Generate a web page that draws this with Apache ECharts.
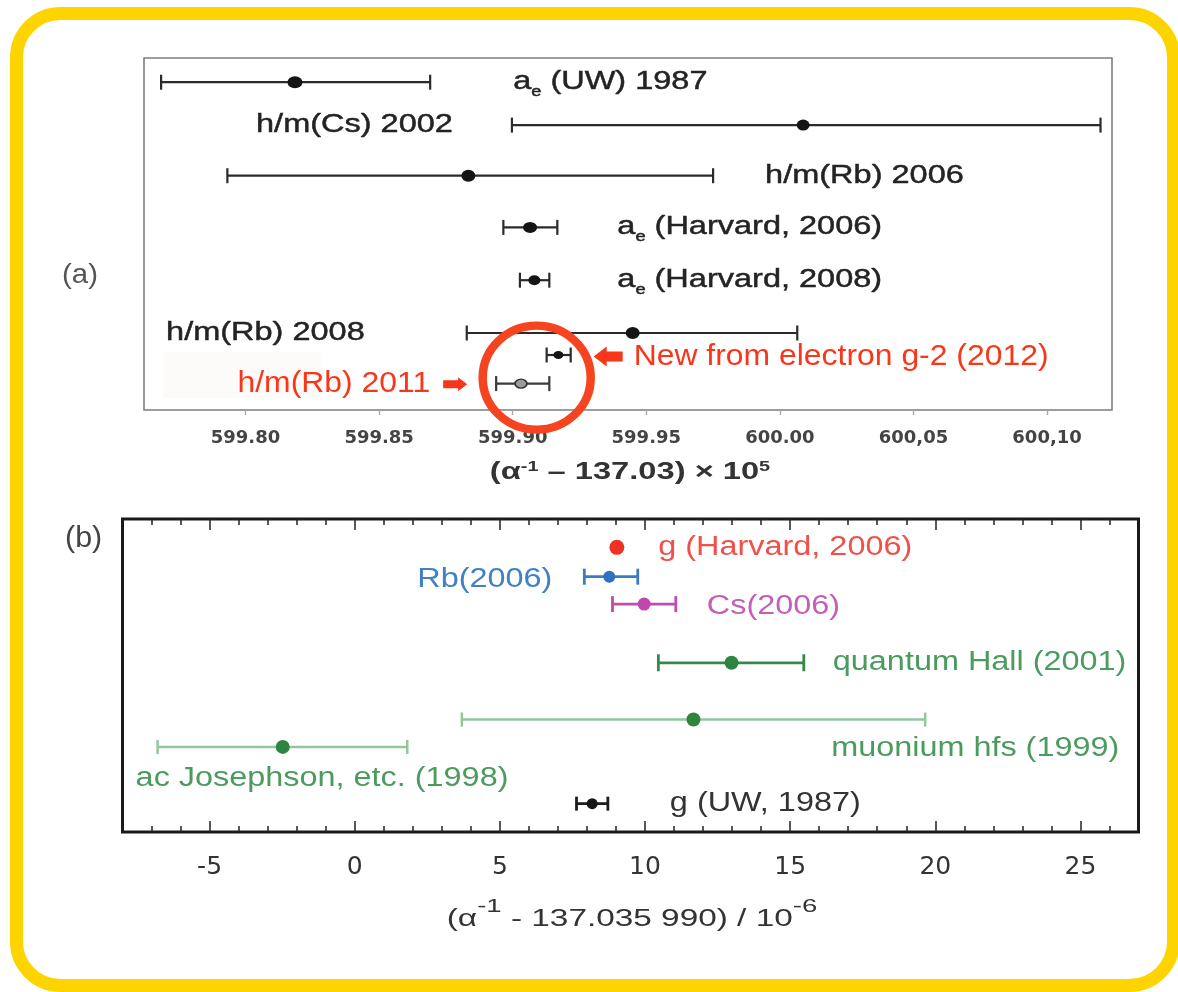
<!DOCTYPE html>
<html>
<head>
<meta charset="utf-8">
<script src="https://cdn.jsdelivr.net/npm/echarts@6/dist/echarts.min.js"></script>
<style>html,body{margin:0;background:#fff}#c{width:1178px;height:992px}</style>
</head>
<body>
<div id="c"></div>
<script>
// 上半 (a)：(α⁻¹ − 137.03) × 10⁵，由上而下 8 筆量測
const namesA = ['a{s|e} (UW) 1987', 'h/m(Cs) 2002', 'h/m(Rb) 2006', 'a{s|e} (Harvard, 2006)',
  'a{s|e} (Harvard, 2008)', 'h/m(Rb) 2008', 'New from electron g-2 (2012)', 'h/m(Rb) 2011']
const valA = [599.8185, 600.0087, 599.8834, 599.9065, 599.9081, 599.9449, 599.9171, 599.9031]
const loA = [599.7684, 599.8997, 599.7932, 599.8965, 599.9027, 599.8828, 599.9127, 599.8938]
const hiA = [599.8691, 600.1200, 599.9750, 599.9167, 599.9137, 600.0065, 599.9217, 599.9137]
const rowA = [1.1, 3.05, 5.35, 7.7, 10.1, 12.5, 13.5, 14.8]
const ticksA = [599.80, 599.85, 599.90, 599.95, 600.00, 600.05, 600.10]
const tickTextA = ['599.80', '599.85', '599.90', '599.95', '600.00', '600,05', '600,10']

// 下半 (b)：(α⁻¹ − 137.035 990) / 10⁻⁶
const namesB = ['g (Harvard, 2006)', 'Rb(2006)', 'Cs(2006)', 'quantum Hall (2001)',
  'muonium hfs (1999)', 'ac Josephson, etc. (1998)', 'g (UW, 1987)']
const valB = [9.03, 8.77, 9.97, 12.98, 11.67, -2.48, 8.18]
const loB = [8.98, 7.91, 8.88, 10.46, 3.69, -6.79, 7.64]
const hiB = [9.08, 9.75, 11.06, 15.47, 19.65, 1.81, 8.72]
const rowB = [1.45, 2.95, 4.35, 7.35, 10.25, 11.65, 14.55]
const ticksB = [-5, 0, 5, 10, 15, 20, 25]
const minorB = [-7, -6, -5, -4, -3, -2, -1, 0, 1, 2, 3, 4, 5, 6, 7, 8, 9, 10, 11, 12, 13,
  14, 15, 16, 17, 18, 19, 20, 21, 22, 23, 24, 25, 26]

const FONT = '"Liberation Sans", Arial, sans-serif'
const RED = '#f8361a'

// 標籤版面：掛在誤差棒的 lo / hi 端，dx/dy 為像素偏移（原圖字體有水平拉伸，用 scaleX 補）
const LAB_A = [
  { end: 'hi', dx: 83 },
  { end: 'lo', dx: -59, align: 'right' },
  { end: 'hi', dx: 52 },
  { end: 'hi', dx: 60 },
  { end: 'hi', dx: 68 },
  { end: 'lo', dx: -102, align: 'right' },
  { end: 'hi', dx: 63, dy: 1.5, red: true, arrow: { dir: -1, at: 23 } },
  { end: 'lo', dx: -66, dy: 0.7, align: 'right', red: true, arrow: { dir: 1, at: -29 } },
]
const LAB_B = [
  { end: 'hi', dx: 40, color: '#f0504a' },
  { end: 'lo', dx: -32, dy: 3, align: 'right', color: '#3f80c6' },
  { end: 'hi', dx: 31, dy: 2, color: '#c35fb7' },
  { end: 'hi', dx: 29, color: '#4c9b5e' },
  { end: 'hi', dx: -94, dy: 29, color: '#4c9b5e' },
  { end: 'lo', dx: -22, dy: 32, color: '#4c9b5e' },
  { end: 'hi', dx: 62, color: '#333' },
]
const BAR_B = [
  { color: '#ee3326', w: 3, cap: 0 },
  { color: '#3b7bc3', w: 2.8, cap: 8 },
  { color: '#c04cae', w: 2.8, cap: 8 },
  { color: '#35894a', w: 2.8, cap: 8.5 },
  { color: '#92c79c', w: 2.5, cap: 7 },
  { color: '#92c79c', w: 2.5, cap: 7 },
  { color: '#1e1e1e', w: 2.8, cap: 7 },
]
const DOT_A = [[15, 12], [13, 11], [14, 12], [14, 11], [12, 10], [14, 12], [10, 8]]
const DOT_B = [
  { c: '#ee3326', s: 15 }, { c: '#2f72bf', s: 12 }, { c: '#bf47ad', s: 13 }, { c: '#2e8542', s: 14 },
  { c: '#2e8542', s: 14 }, { c: '#2e8542', s: 14 }, { c: '#151515', s: 11 },
]

const sub = { fontFamily: FONT, fontSize: 14, padding: [20, 0, 0, 0] }

function errBars(styleOf) {
  return (params, api) => {
    const st = styleOf(params.dataIndex)
    const a = api.coord([api.value(0), api.value(2)])
    const b = api.coord([api.value(1), api.value(2)])
    const ls = { stroke: st.color, lineWidth: st.w }
    const kids = [{ type: 'line', shape: { x1: a[0], y1: a[1], x2: b[0], y2: b[1] }, style: ls }]
    if (st.cap) {
      kids.push({ type: 'line', shape: { x1: a[0], y1: a[1] - st.cap, x2: a[0], y2: a[1] + st.cap }, style: ls })
      kids.push({ type: 'line', shape: { x1: b[0], y1: b[1] - st.cap, x2: b[0], y2: b[1] + st.cap }, style: ls })
    }
    return { type: 'group', children: kids }
  }
}

function arrowPts(tx, ty, dir, big) {
  // dir = -1 指向左、1 指向右；tip 在 (tx, ty)
  const hl = big ? 13 : 9, hh = big ? 10 : 7, sl = big ? 29 : 24, sh = big ? 5 : 4
  const d = -dir
  return [[tx, ty], [tx + d * hl, ty - hh], [tx + d * hl, ty - sh], [tx + d * sl, ty - sh],
    [tx + d * sl, ty + sh], [tx + d * hl, ty + sh], [tx + d * hl, ty + hh]]
}

const labelsA = (params, api) => {
  const i = params.dataIndex, L = LAB_A[i]
  const p = api.coord([api.value(0), api.value(1)])
  const kids = [{
    type: 'text', x: p[0] + L.dx, y: p[1] + (L.dy || 0), scaleX: L.red ? 1.1 : 1.3,
    style: L.red
      ? { text: namesA[i], font: '29px ' + FONT, fill: RED, align: L.align || 'left', verticalAlign: 'middle' }
      : { text: namesA[i], font: '25px ' + FONT, fill: '#232323', stroke: '#232323', lineWidth: 0.45,
          align: L.align || 'left', verticalAlign: 'middle', rich: { s: sub } },
  }]
  if (L.arrow) {
    kids.push({ type: 'polygon', shape: { points: arrowPts(p[0] + L.arrow.at, p[1] + (L.dy || 0), L.arrow.dir, L.arrow.dir < 0) },
      style: { fill: RED } })
  }
  return { type: 'group', children: kids }
}

const labelsB = (params, api) => {
  const i = params.dataIndex, L = LAB_B[i]
  const p = api.coord([api.value(0), api.value(1)])
  return {
    type: 'text', x: p[0] + L.dx, y: p[1] + (L.dy || 0), scaleX: 1.2,
    style: { text: namesB[i], font: '27px ' + FONT, fill: L.color, align: L.align || 'left', verticalAlign: 'middle' },
  }
}

// 紅圈：圍住 2012 與 2011 兩點
const ring = (params, api) => {
  const p = api.coord([api.value(0), api.value(1)])
  return { type: 'circle', x: p[0] - 3, y: p[1] + 8.4, scaleY: 52 / 54,
    shape: { cx: 0, cy: 0, r: 54 }, style: { fill: 'none', stroke: '#f5441f', lineWidth: 8.5 } }
}

const chart = echarts.init(document.getElementById('c'))
const tickAxisB = (pos, values, len, withLabel) => ({
  type: 'value', gridIndex: 1, position: pos, min: -8, max: 27,
  axisLine: { show: false, onZero: false }, splitLine: { show: false },
  axisTick: { show: true, inside: true, length: len, customValues: values, lineStyle: { color: '#222', width: 1.5 } },
  axisLabel: withLabel
    ? { show: true, customValues: values, margin: 23, fontSize: 25, fontFamily: 'DejaVu Sans', color: '#333' }
    : { show: false },
})

chart.setOption({
  animation: false,
  backgroundColor: '#fff',
  grid: [
    { left: 144, top: 58, width: 968, height: 352, show: true, borderColor: '#7d7d7d', borderWidth: 1.6 },
    { left: 122.5, top: 519, width: 1016, height: 313, show: true, borderColor: '#1a1a1a', borderWidth: 3 },
  ],
  xAxis: [
    {
      type: 'value', gridIndex: 0, position: 'bottom', min: 599.762, max: 600.1243,
      axisLine: { show: false, onZero: false }, splitLine: { show: false },
      axisTick: { show: true, length: 5, customValues: ticksA, lineStyle: { color: '#aaa', width: 1.4 } },
      axisLabel: {
        customValues: ticksA, margin: 19, fontSize: 18, fontWeight: 'bold', fontFamily: 'DejaVu Sans', color: '#444',
        formatter: v => tickTextA[ticksA.findIndex(t => Math.abs(t - v) < 1e-6)] || '',
      },
    },
    tickAxisB('bottom', ticksB, 11, true),
    tickAxisB('bottom', minorB, 6, false),
    tickAxisB('top', ticksB, 11, false),
    tickAxisB('top', minorB, 6, false),
  ],
  yAxis: [
    { type: 'value', gridIndex: 0, min: 0, max: 16, inverse: true, show: false },
    { type: 'value', gridIndex: 1, min: 0, max: 16, inverse: true, show: false },
  ],
  graphic: [
    { type: 'rect', shape: { x: 16.5, y: 13.5, width: 1157, height: 972, r: 44 },
      style: { fill: 'none', stroke: '#fdd400', lineWidth: 13 } },
    { type: 'rect', shape: { x: 163, y: 352, width: 159, height: 46 }, style: { fill: '#fdfbf9' } },
    { type: 'text', x: 62, y: 275, scaleX: 1.05,
      style: { text: '(a)', font: '28px ' + FONT, fill: '#555', align: 'left', verticalAlign: 'middle' } },
    { type: 'text', x: 65, y: 539, scaleX: 1.05,
      style: { text: '(b)', font: '29px ' + FONT, fill: '#444', align: 'left', verticalAlign: 'middle' } },
    { type: 'text', x: 630, y: 473, scaleX: 1.42,
      style: { text: '(α{sup|-1} – 137.03) × 10{sup|5}', font: 'bold 23px ' + FONT, fill: '#333',
        align: 'center', verticalAlign: 'middle',
        rich: { sup: { fontFamily: FONT, fontWeight: 'bold', fontSize: 14, padding: [0, 0, 12, 0] } } } },
    { type: 'text', x: 632, y: 920, scaleX: 1.45,
      style: { text: '(α{sup|-1} - 137.035 990) / 10{sup|-6}', font: '23px ' + FONT, fill: '#333',
        align: 'center', verticalAlign: 'middle',
        rich: { sup: { fontFamily: FONT, fontSize: 19, padding: [0, 0, 26, 0] } } } },
  ],
  series: [
    { type: 'custom', xAxisIndex: 0, yAxisIndex: 0, z: 2, encode: { x: [0, 1], y: 2 },
      data: loA.map((lo, i) => [lo, hiA[i], rowA[i]]),
      renderItem: errBars(i => ({ color: i === 7 ? '#3a3a3a' : '#2b2b2b', w: 2.2, cap: 7.5 })) },
    { type: 'scatter', xAxisIndex: 0, yAxisIndex: 0, z: 3, symbol: 'circle',
      data: valA.slice(0, 7).map((v, i) => [v, rowA[i]]),
      symbolSize: (v, p) => DOT_A[p.dataIndex], itemStyle: { color: '#151515', opacity: 1 } },
    { type: 'scatter', xAxisIndex: 0, yAxisIndex: 0, z: 3, symbol: 'circle', symbolSize: [12, 9],
      data: [[valA[7], rowA[7]]], itemStyle: { color: '#9b9b9b', borderColor: '#333', borderWidth: 1.6, opacity: 1 } },
    { type: 'custom', xAxisIndex: 0, yAxisIndex: 0, z: 4, encode: { x: 0, y: 1 },
      data: LAB_A.map((L, i) => [L.end === 'lo' ? loA[i] : hiA[i], rowA[i]]), renderItem: labelsA },
    { type: 'custom', xAxisIndex: 0, yAxisIndex: 0, z: 5, encode: { x: 0, y: 1 },
      data: [[(valA[6] + valA[7]) / 2, (rowA[6] + rowA[7]) / 2]], renderItem: ring },

    { type: 'custom', xAxisIndex: 1, yAxisIndex: 1, z: 2, encode: { x: [0, 1], y: 2 },
      data: loB.map((lo, i) => [lo, hiB[i], rowB[i]]), renderItem: errBars(i => BAR_B[i]) },
    { type: 'scatter', xAxisIndex: 1, yAxisIndex: 1, z: 3, symbol: 'circle',
      data: valB.map((v, i) => [v, rowB[i]]),
      symbolSize: (v, p) => DOT_B[p.dataIndex].s, itemStyle: { color: p => DOT_B[p.dataIndex].c, opacity: 1 } },
    { type: 'custom', xAxisIndex: 1, yAxisIndex: 1, z: 4, encode: { x: 0, y: 1 },
      data: LAB_B.map((L, i) => [L.end === 'lo' ? loB[i] : hiB[i], rowB[i]]), renderItem: labelsB },
  ],
})
</script>
</body>
</html>
